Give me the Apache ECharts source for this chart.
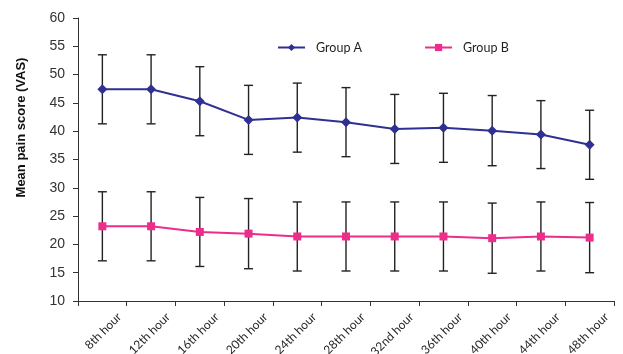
<!DOCTYPE html>
<html>
<head>
<meta charset="utf-8">
<script src="https://cdn.jsdelivr.net/npm/echarts@6/dist/echarts.min.js"></script>
<style>
  html, body { margin: 0; padding: 0; background: #fff; }
  #chart { width: 623px; height: 354px; }
</style>
</head>
<body>
<div id="chart"></div>
<script>
// Time points after surgery
const hours = ['8th hour', '12th hour', '16th hour', '20th hour', '24th hour', '28th hour',
               '32nd hour', '36th hour', '40th hour', '44th hour', '48th hour'];

// Mean VAS pain scores and standard deviations
const groupAMean = [47.4, 47.4, 45.3, 42.0, 42.4, 41.6, 40.4, 40.6, 40.1, 39.4, 37.6];
const groupASd   = [6.1, 6.1, 6.1, 6.1, 6.1, 6.1, 6.1, 6.1, 6.2, 6.0, 6.1];
const groupBMean = [23.2, 23.2, 22.2, 21.9, 21.4, 21.4, 21.4, 21.4, 21.1, 21.4, 21.2];
const groupBSd   = [6.1, 6.1, 6.1, 6.2, 6.1, 6.1, 6.1, 6.1, 6.2, 6.1, 6.2];

const yTicks = { min: 10, max: 60, step: 5 };

const colorA = '#2e3192';
const colorB = '#ec2d8c';
const barColor = '#222222';

function errorData(mean, sd) {
  return mean.map((m, i) => [i, m - sd[i], m + sd[i]]);
}

function renderErrorBar(params, api) {
  const lo = api.coord([api.value(0), api.value(1)]);
  const hi = api.coord([api.value(0), api.value(2)]);
  const cap = 4.5;
  const style = { stroke: barColor, lineWidth: 1.4 };
  return {
    type: 'group',
    children: [
      { type: 'line', shape: { x1: hi[0], y1: hi[1], x2: lo[0], y2: lo[1] }, style },
      { type: 'line', shape: { x1: hi[0] - cap, y1: hi[1], x2: hi[0] + cap, y2: hi[1] }, style },
      { type: 'line', shape: { x1: lo[0] - cap, y1: lo[1], x2: lo[0] + cap, y2: lo[1] }, style }
    ]
  };
}

const chart = echarts.init(document.getElementById('chart'), null, { renderer: 'canvas' });

chart.setOption({
  animation: false,
  backgroundColor: '#ffffff',
  grid: { left: 78, right: 9, top: 18, bottom: 53, containLabel: false, outerBoundsMode: 'none' },
  legend: {
    left: 272,
    top: 36,
    itemWidth: 27,
    itemHeight: 9,
    itemGap: 62,
    data: ['Group A', 'Group B'],
    textStyle: { fontFamily: 'Lato', fontSize: 12.5, color: '#231f20', padding: [0, 0, 0, 6] }
  },
  xAxis: {
    type: 'category',
    data: hours,
    boundaryGap: true,
    axisLine: { lineStyle: { color: '#333', width: 1 } },
    axisTick: { show: true, length: 5, alignWithLabel: false, lineStyle: { color: '#333' } },
    axisLabel: {
      interval: 0,
      rotate: 45,
      margin: 31,
      padding: [0, -24, 0, 0],
      fontFamily: 'Lato',
      fontSize: 12,
      color: '#231f20'
    },
    splitLine: { show: false }
  },
  yAxis: {
    type: 'value',
    min: yTicks.min,
    max: yTicks.max,
    interval: yTicks.step,
    name: 'Mean pain score (VAS)',
    nameLocation: 'middle',
    nameGap: 50,
    nameTextStyle: {
      fontFamily: 'Liberation Sans',
      fontWeight: 'bold',
      fontSize: 13,
      color: '#111',
      padding: [0, 0, 0, 64]
    },
    axisLine: { show: true, lineStyle: { color: '#333', width: 1 } },
    axisTick: { show: true, length: 5, lineStyle: { color: '#333' } },
    axisLabel: { margin: 13, fontFamily: 'Liberation Sans', fontSize: 14, color: '#333' },
    splitLine: { show: false }
  },
  series: [
    {
      name: 'Group A SD',
      type: 'custom',
      renderItem: renderErrorBar,
      data: errorData(groupAMean, groupASd),
      encode: { x: 0, y: [1, 2] },
      z: 1,
      silent: true
    },
    {
      name: 'Group B SD',
      type: 'custom',
      renderItem: renderErrorBar,
      data: errorData(groupBMean, groupBSd),
      encode: { x: 0, y: [1, 2] },
      z: 1,
      silent: true
    },
    {
      name: 'Group A',
      type: 'line',
      data: groupAMean,
      symbol: 'diamond',
      symbolSize: 10,
      lineStyle: { color: colorA, width: 2 },
      itemStyle: { color: colorA },
      z: 3
    },
    {
      name: 'Group B',
      type: 'line',
      data: groupBMean,
      symbol: 'rect',
      symbolSize: 8,
      lineStyle: { color: colorB, width: 2 },
      itemStyle: { color: colorB },
      z: 3
    }
  ]
});
</script>
</body>
</html>
